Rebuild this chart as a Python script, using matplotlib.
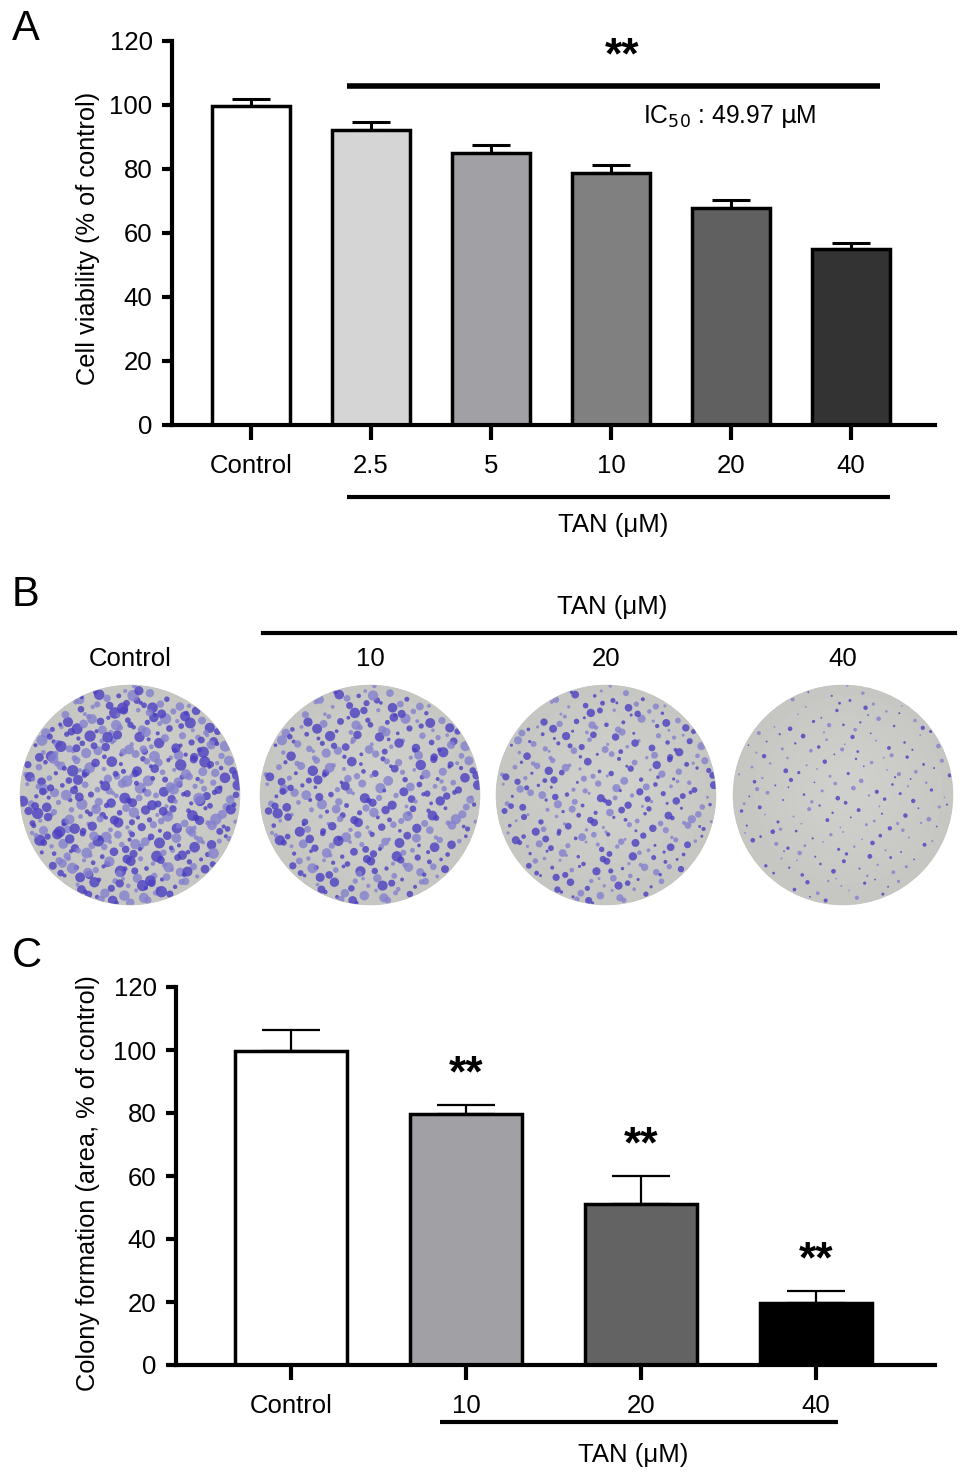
import numpy as np
import matplotlib
matplotlib.use("Agg")
import matplotlib.pyplot as plt
from matplotlib.patches import Circle

# ---- data ----
a_labels = ['Control', '2.5', '5', '10', '20', '40']
a_values = [99.7, 92.3, 85.1, 78.8, 67.8, 55.0]
a_errors = [2.2, 2.4, 2.4, 2.5, 2.5, 1.9]
a_colors = ['#ffffff', '#d5d5d5', '#a0a0a5', '#808080', '#606060', '#333333']

b_labels = ['Control', '10', '20', '40']
b_colonies = [620, 480, 420, 260]     # rough number of stained spots per plate
b_spot_size = [34, 28, 18, 6]

c_labels = ['Control', '10', '20', '40']
c_values = [99.7, 79.7, 51.1, 19.7]
c_errors = [6.6, 2.8, 8.9, 3.8]
c_colors = ['#ffffff', '#a0a0a5', '#636363', '#000000']

W, H = 969, 1482
fig = plt.figure(figsize=(W / 100, H / 100), dpi=100)
plt.rcParams['font.family'] = ['Liberation Sans', 'DejaVu Sans']
NARROW = ['Liberation Sans Narrow', 'Liberation Sans', 'DejaVu Sans']
TICK_FS = 18.5


def px_axes(left, top, right, bottom):
    return fig.add_axes([left / W, 1 - bottom / H, (right - left) / W, (bottom - top) / H])


def style_bar_axes(ax, labels):
    for s in ['top', 'right']:
        ax.spines[s].set_visible(False)
    for s in ['left', 'bottom']:
        ax.spines[s].set_linewidth(3.0)
    ax.set_ylim(0, 120)
    ax.set_yticks(range(0, 121, 20))
    ax.tick_params(axis='y', length=7, width=3.0, pad=7, labelsize=TICK_FS)
    ax.tick_params(axis='x', length=11, width=3.0, pad=10, labelsize=TICK_FS)
    ax.set_xticks(range(len(labels)))
    ax.set_xticklabels(labels)
    for t in ax.get_xticklabels() + ax.get_yticklabels():
        t.set_family(NARROW)


# ---- panel A ----
axA = px_axes(172, 41, 935, 425)
x = np.arange(len(a_labels))
axA.bar(x, a_values, width=0.65, color=a_colors, edgecolor='black', linewidth=2.5, zorder=2)
axA.errorbar(x, a_values, yerr=[np.zeros(len(x)), a_errors], fmt='none', ecolor='black',
             elinewidth=2.2, capsize=13.5, capthick=2.2, zorder=1)
axA.set_xlim(-0.658, 5.7)
style_bar_axes(axA, a_labels)
axA.plot([0.8, 5.24], [105.9, 105.9], color='black', lw=4, clip_on=False, solid_capstyle='butt')
axA.text(3.09, 115, '**', ha='center', va='center', fontsize=32, fontweight='bold')
axA.text(3.27, 96.3, r'IC$_{50}$ : 49.97 $\mathrm{\mu}$M', ha='left', va='center',
         fontsize=17.8, family=NARROW)
axA.plot([0.8, 5.325], [-22.5, -22.5], color='black', lw=3, clip_on=False, solid_capstyle='butt')
axA.text(3.02, -31.3, 'TAN (μM)', ha='center', va='center', fontsize=TICK_FS, family=NARROW)
fig.text(88 / W, 1 - 238 / H, 'Cell viability (% of control)', rotation=90,
         ha='center', va='center', fontsize=18.3)
fig.text(12 / W, 1 - 29 / H, 'A', ha='left', va='center', fontsize=30, family=NARROW)

# ---- panel B ----
fig.text(12 / W, 1 - 595 / H, 'B', ha='left', va='center', fontsize=30, family=NARROW)
fig.text(612 / W, 1 - 607 / H, 'TAN (μM)', ha='center', va='center', fontsize=TICK_FS, family=NARROW)
fig.add_artist(plt.Line2D([263 / W, 955 / W], [1 - 633 / H, 1 - 633 / H], color='black', lw=3))


def halton(n, base):
    out = np.zeros(n)
    for i in range(n):
        f, r, k = 1.0, 0.0, i + 1
        while k > 0:
            f /= base
            r += f * (k % base)
            k //= base
        out[i] = r
    return out


plate_centers = [130, 370, 606, 843]
for i, (lab, cx) in enumerate(zip(b_labels, plate_centers)):
    fig.text(cx / W, 1 - 659 / H, lab, ha='center', va='center', fontsize=TICK_FS, family=NARROW)
    r = 111
    ax = px_axes(cx - r, 795 - r, cx + r, 795 + r)
    ax.set_xlim(-1, 1)
    ax.set_ylim(-1, 1)
    ax.axis('off')
    plate = Circle((0, 0), 0.99, facecolor='#c6c7c2', edgecolor='#bfbfba', lw=0.5)
    ax.add_patch(plate)
    # soft lighter centre
    for rr in np.linspace(0.85, 0.2, 8):
        ax.add_patch(Circle((0.05, 0.05), rr, facecolor='#d8d9d4', edgecolor='none', alpha=0.12))
    n = b_colonies[i]
    px_ = halton(n, 2) * 2 - 1
    py_ = halton(n, 3) * 2 - 1
    ps = halton(n, 5)
    pc = halton(n, 7)
    keep = px_ ** 2 + py_ ** 2 < 0.97
    sizes = b_spot_size[i] * (0.25 + 1.8 * ps[keep] ** 2)
    cols = np.where(pc[keep] > 0.45, '#4b3fc2', '#8480cf')
    sc = ax.scatter(px_[keep], py_[keep], s=sizes, c=cols, alpha=0.8, linewidths=0)
    sc.set_clip_path(plate)

# ---- panel C ----
axC = px_axes(176, 987, 935, 1365)
x = np.arange(len(c_labels))
axC.bar(x, c_values, width=0.64, color=c_colors, edgecolor='black', linewidth=2.5, zorder=2)
axC.errorbar(x, c_values, yerr=[np.zeros(len(x)), c_errors], fmt='none', ecolor='black',
             elinewidth=1.6, capsize=21, capthick=1.6, zorder=1)
axC.set_xlim(-0.657, 3.68)
style_bar_axes(axC, c_labels)
for i in range(1, len(c_values)):
    axC.text(i, c_values[i] + c_errors[i] + 9.5, '**', ha='center', va='center',
             fontsize=32, fontweight='bold')
axC.plot([0.851, 3.126], [-18.1, -18.1], color='black', lw=3, clip_on=False, solid_capstyle='butt')
axC.text(1.954, -28.6, 'TAN (μM)', ha='center', va='center', fontsize=TICK_FS, family=NARROW)
fig.text(88 / W, 1 - 1183 / H, 'Colony formation (area, % of control)', rotation=90,
         ha='center', va='center', fontsize=18.3)
fig.text(12 / W, 1 - 956 / H, 'C', ha='left', va='center', fontsize=30, family=NARROW)

fig.savefig('out.png', dpi=100)
